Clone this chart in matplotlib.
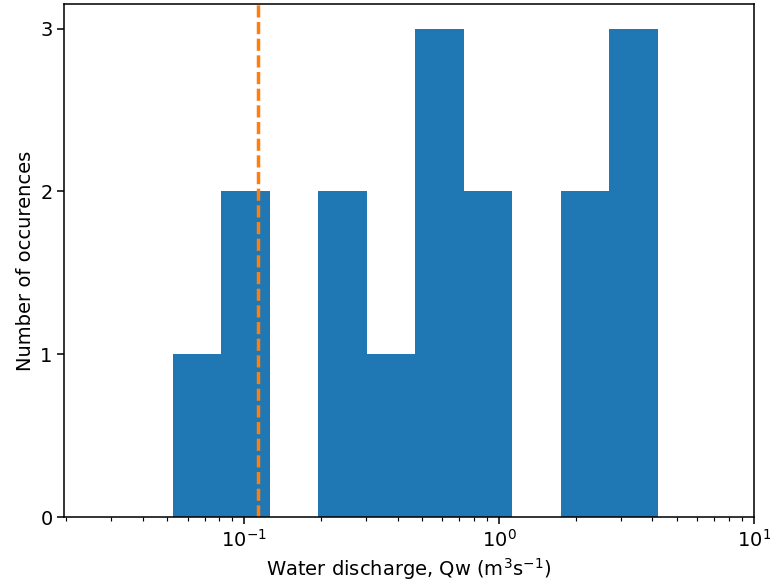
import matplotlib
matplotlib.use("Agg")
import matplotlib.pyplot as plt
import numpy as np

# Histogram bin edges (m^3/s) and counts
bin_edges = [0.05254, 0.08139, 0.1261, 0.1954, 0.3029, 0.4692,
             0.7272, 1.127, 1.746, 2.705, 4.193]
counts = [1, 2, 0, 2, 1, 3, 2, 0, 2, 3]
threshold = 0.1132
xlim = (0.0197, 10)
yticks = [0, 1, 2, 3]

plt.rcParams['font.family'] = ['DejaVu Sans']
plt.rcParams['font.size'] = 14
s = 1.4
plt.rcParams['xtick.major.size'] = 3.5 * s
plt.rcParams['ytick.major.size'] = 3.5 * s
plt.rcParams['xtick.minor.size'] = 2 * s
plt.rcParams['xtick.major.width'] = 0.8 * s
plt.rcParams['ytick.major.width'] = 0.8 * s
plt.rcParams['xtick.minor.width'] = 0.6 * s
plt.rcParams['axes.linewidth'] = 0.8 * s

fig = plt.figure(figsize=(7.7, 5.88), dpi=100)
ax = fig.add_axes([0.0835, 0.1207, 0.979 - 0.0835, 0.993 - 0.1207])

ax.hist(bin_edges[:-1], bins=bin_edges, weights=counts, color='#1f77b4')
ax.axvline(threshold, color='#ff7f0e', linestyle=(0, (3.5, 1.3)), linewidth=2.5)
ax.set_xscale('log')
ax.set_xlim(*xlim)
ax.set_yticks(yticks)
ax.set_xlabel('Water discharge, Qw (m$^3$s$^{-1}$)')
ax.set_ylabel('Number of occurences')

fig.savefig('out.png', dpi=100)
